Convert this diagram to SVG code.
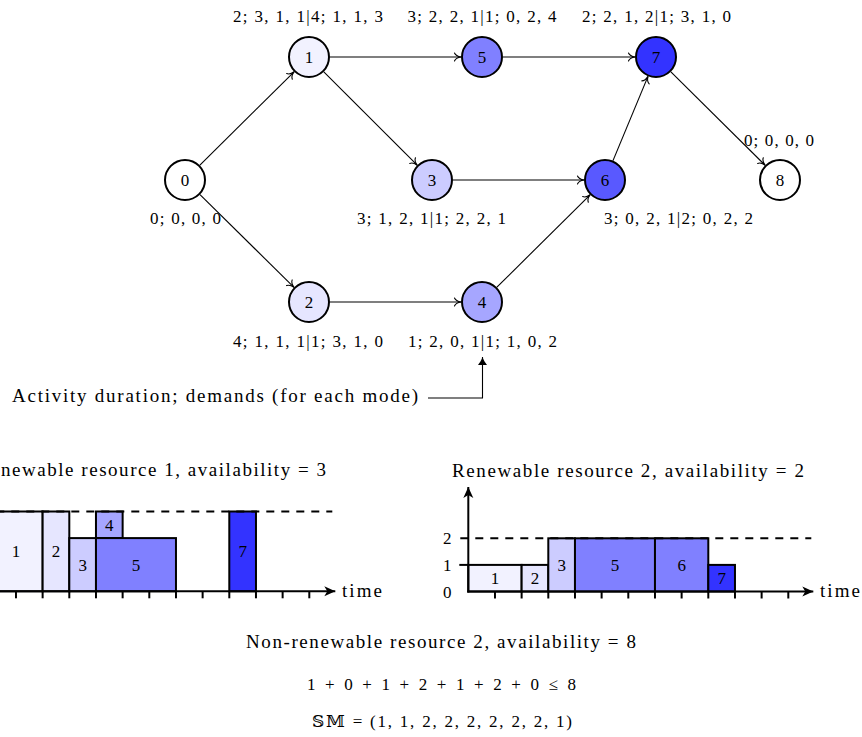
<svg xmlns="http://www.w3.org/2000/svg" width="862" height="737" viewBox="0 0 862 737">
<style>
  text { font-family: "Liberation Serif", "Times New Roman", serif; font-size: 17px; fill: #000; }
  .c { text-anchor: middle; }
  .p { font-size: 19px; }
  .node circle { stroke: #000; stroke-width: 2; }
  .edge { stroke: #000; stroke-width: 1.1; fill: none; marker-end: url(#to); }
  .blk { stroke: #000; stroke-width: 2; }
  .axis { stroke: #000; stroke-width: 2; fill: none; }
  .dash { stroke: #000; stroke-width: 2; stroke-dasharray: 8 7; fill: none; }
  .tick { stroke: #000; stroke-width: 2; }
</style>
<defs>
  <marker id="to" markerUnits="userSpaceOnUse" viewBox="-8 -5 9 10" refX="0" refY="0" markerWidth="9" markerHeight="10" orient="auto">
    <path d="M-6.5,-4 C-5.5,-1.6 -2.5,-0.4 0,0 C-2.5,0.4 -5.5,1.6 -6.5,4" fill="none" stroke="#000" stroke-width="1.1" stroke-linecap="round"/>
  </marker>
  <marker id="stealth" markerUnits="userSpaceOnUse" viewBox="-12 -6 13 12" refX="0" refY="0" markerWidth="13" markerHeight="12" orient="auto">
    <path d="M0,0 L-11,-5 L-8,0 L-11,5 Z" fill="#000"/>
  </marker>
  <marker id="lat" markerUnits="userSpaceOnUse" viewBox="-10 -5 11 10" refX="0" refY="0" markerWidth="11" markerHeight="10" orient="auto">
    <path d="M0,0 C-3,-1 -6,-3 -8,-4.5 L-8,4.5 C-6,3 -3,1 0,0 Z" fill="#000"/>
  </marker>
</defs>

<g id="connectors">
  <line class="edge" x1="199.9" y1="165.2" x2="294.1" y2="71.8"/>
  <line class="edge" x1="200.0" y1="194.7" x2="294.0" y2="287.3"/>
  <line class="edge" x1="330" y1="57" x2="461" y2="57"/>
  <line class="edge" x1="323.8" y1="71.8" x2="417.2" y2="165.2"/>
  <line class="edge" x1="503" y1="57" x2="635" y2="57"/>
  <line class="edge" x1="453" y1="180" x2="584" y2="180"/>
  <line class="edge" x1="330" y1="302" x2="461" y2="302"/>
  <line class="edge" x1="496.9" y1="287.2" x2="590.1" y2="194.8"/>
  <line class="edge" x1="613.0" y1="160.6" x2="648.0" y2="76.4"/>
  <line class="edge" x1="670.9" y1="71.8" x2="765.1" y2="165.2"/>
  <path d="M428,398 H482.5 V357" fill="none" stroke="#000" stroke-width="1.1" marker-end="url(#lat)"/>
</g>

<g id="node0" class="node"><circle cx="185" cy="180" r="20" fill="#ffffff"/><text class="c" x="185" y="186">0</text></g>
<g id="node1" class="node"><circle cx="309" cy="57" r="20" fill="#f2f2ff"/><text class="c" x="309" y="63">1</text></g>
<g id="node2" class="node"><circle cx="309" cy="302" r="20" fill="#e6e6ff"/><text class="c" x="309" y="308">2</text></g>
<g id="node3" class="node"><circle cx="432" cy="180" r="20" fill="#ccccff"/><text class="c" x="432" y="186">3</text></g>
<g id="node4" class="node"><circle cx="482" cy="302" r="20" fill="#a6a6ff"/><text class="c" x="482" y="308">4</text></g>
<g id="node5" class="node"><circle cx="482" cy="57" r="20" fill="#8080ff"/><text class="c" x="482" y="63">5</text></g>
<g id="node6" class="node"><circle cx="605" cy="180" r="20" fill="#5959ff"/><text class="c" x="605" y="186">6</text></g>
<g id="node7" class="node"><circle cx="656" cy="57" r="20" fill="#3333ff"/><text class="c" x="656" y="63">7</text></g>
<g id="node8" class="node"><circle cx="780" cy="180" r="20" fill="#ffffff"/><text class="c" x="780" y="186">8</text></g>

<g id="labels">
  <text class="c" x="308" y="22" textLength="150" lengthAdjust="spacing">2; 3, 1, 1|4; 1, 1, 3</text>
  <text class="c" x="482" y="22" textLength="149" lengthAdjust="spacing">3; 2, 2, 1|1; 0, 2, 4</text>
  <text class="c" x="656.5" y="22" textLength="149" lengthAdjust="spacing">2; 2, 1, 2|1; 3, 1, 0</text>
  <text class="c" x="779" y="146" textLength="70" lengthAdjust="spacing">0; 0, 0, 0</text>
  <text class="c" x="185.5" y="224" textLength="71" lengthAdjust="spacing">0; 0, 0, 0</text>
  <text class="c" x="431.5" y="224" textLength="149" lengthAdjust="spacing">3; 1, 2, 1|1; 2, 2, 1</text>
  <text class="c" x="678.5" y="224" textLength="149" lengthAdjust="spacing">3; 0, 2, 1|2; 0, 2, 2</text>
  <text class="c" x="308" y="347" textLength="150" lengthAdjust="spacing">4; 1, 1, 1|1; 3, 1, 0</text>
  <text class="c" x="482.5" y="347" textLength="149" lengthAdjust="spacing">1; 2, 0, 1|1; 1, 0, 2</text>
  <text class="p" x="12" y="402" textLength="406" lengthAdjust="spacing">Activity duration; demands (for each mode)</text>
</g>

<g id="chart1" transform="translate(-10.7,591.3)">
  <text class="p" x="11.7" y="-115" textLength="325" lengthAdjust="spacing">newable resource 1, availability = 3</text>
  <rect class="blk" x="0" y="-79.8" width="53.33" height="79.8" fill="#f2f2ff"/>
  <rect class="blk" x="53.33" y="-79.8" width="26.67" height="79.8" fill="#e6e6ff"/>
  <rect class="blk" x="80" y="-53.2" width="26.67" height="53.2" fill="#ccccff"/>
  <rect class="blk" x="106.67" y="-79.8" width="26.67" height="26.6" fill="#a6a6ff"/>
  <rect class="blk" x="106.67" y="-53.2" width="80" height="53.2" fill="#8080ff"/>
  <rect class="blk" x="240" y="-79.8" width="26.67" height="79.8" fill="#3333ff"/>
  <line class="dash" x1="-8" y1="-79.8" x2="343" y2="-79.8"/>
  <text class="c" x="26.67" y="-33.9">1</text>
  <text class="c" x="66.67" y="-33.9">2</text>
  <text class="c" x="93.33" y="-20.6">3</text>
  <text class="c" x="120" y="-60.5">4</text>
  <text class="c" x="146.67" y="-20.6">5</text>
  <text class="c" x="253.33" y="-33.9">7</text>
  <line class="axis" x1="0" y1="0" x2="346" y2="0" marker-end="url(#stealth)"/>
  <g class="tick">
    <line x1="26.67" y1="0" x2="26.67" y2="7"/><line x1="53.33" y1="0" x2="53.33" y2="7"/>
    <line x1="80" y1="0" x2="80" y2="7"/><line x1="106.67" y1="0" x2="106.67" y2="7"/>
    <line x1="133.33" y1="0" x2="133.33" y2="7"/><line x1="160" y1="0" x2="160" y2="7"/>
    <line x1="186.67" y1="0" x2="186.67" y2="7"/><line x1="213.33" y1="0" x2="213.33" y2="7"/>
    <line x1="240" y1="0" x2="240" y2="7"/><line x1="266.67" y1="0" x2="266.67" y2="7"/>
    <line x1="293.33" y1="0" x2="293.33" y2="7"/><line x1="320" y1="0" x2="320" y2="7"/>
  </g>
  <text class="p" x="352.7" y="5.5" textLength="40" lengthAdjust="spacing">time</text>
</g>

<g id="chart2" transform="translate(468.3,591.5)">
  <text class="c p" x="159.7" y="-115" textLength="352" lengthAdjust="spacing">Renewable resource 2, availability = 2</text>
  <rect class="blk" x="0" y="-26.6" width="53.33" height="26.6" fill="#f2f2ff"/>
  <rect class="blk" x="53.33" y="-26.6" width="26.67" height="26.6" fill="#e6e6ff"/>
  <rect class="blk" x="80" y="-53.2" width="26.67" height="53.2" fill="#ccccff"/>
  <rect class="blk" x="106.67" y="-53.2" width="80" height="53.2" fill="#8080ff"/>
  <rect class="blk" x="186.67" y="-53.2" width="53.33" height="53.2" fill="#8080ff"/>
  <rect class="blk" x="240" y="-26.6" width="26.67" height="26.6" fill="#3333ff"/>
  <line class="dash" x1="-8" y1="-53.2" x2="343" y2="-53.2"/>
  <line class="tick" x1="-9" y1="-26.6" x2="0" y2="-26.6"/>
  <text class="c" x="26.67" y="-7.3">1</text>
  <text class="c" x="66.67" y="-7.3">2</text>
  <text class="c" x="93.33" y="-20.6">3</text>
  <text class="c" x="146.67" y="-20.6">5</text>
  <text class="c" x="213.33" y="-20.6">6</text>
  <text class="c" x="253.33" y="-7.3">7</text>
  <line class="axis" x1="-1" y1="0" x2="345" y2="0" marker-end="url(#stealth)"/>
  <line class="axis" x1="0" y1="1" x2="0" y2="-104.5" marker-end="url(#stealth)"/>
  <g class="tick">
    <line x1="26.67" y1="0" x2="26.67" y2="7"/><line x1="53.33" y1="0" x2="53.33" y2="7"/>
    <line x1="80" y1="0" x2="80" y2="7"/><line x1="106.67" y1="0" x2="106.67" y2="7"/>
    <line x1="133.33" y1="0" x2="133.33" y2="7"/><line x1="160" y1="0" x2="160" y2="7"/>
    <line x1="186.67" y1="0" x2="186.67" y2="7"/><line x1="213.33" y1="0" x2="213.33" y2="7"/>
    <line x1="240" y1="0" x2="240" y2="7"/><line x1="266.67" y1="0" x2="266.67" y2="7"/>
    <line x1="293.33" y1="0" x2="293.33" y2="7"/><line x1="320" y1="0" x2="320" y2="7"/>
  </g>
  <text class="c" x="-21" y="6">0</text>
  <text class="c" x="-21" y="-20.6">1</text>
  <text class="c" x="-21" y="-47.2">2</text>
  <text class="p" x="351.7" y="5.5" textLength="40" lengthAdjust="spacing">time</text>
</g>

<g id="nonrenewable">
  <text class="c p" x="441" y="648" textLength="390" lengthAdjust="spacing">Non-renewable resource 2, availability = 8</text>
  <text class="c" x="441.5" y="690" textLength="269" lengthAdjust="spacing">1 + 0 + 1 + 2 + 1 + 2 + 0 ≤ 8</text>
  <text class="c" x="442" y="727" textLength="260" lengthAdjust="spacing" style="font-family: 'Liberation Serif', 'DejaVu Serif', 'DejaVu Sans', serif">𝕊𝕄 = (1, 1, 2, 2, 2, 2, 2, 2, 1)</text>
</g>
</svg>
